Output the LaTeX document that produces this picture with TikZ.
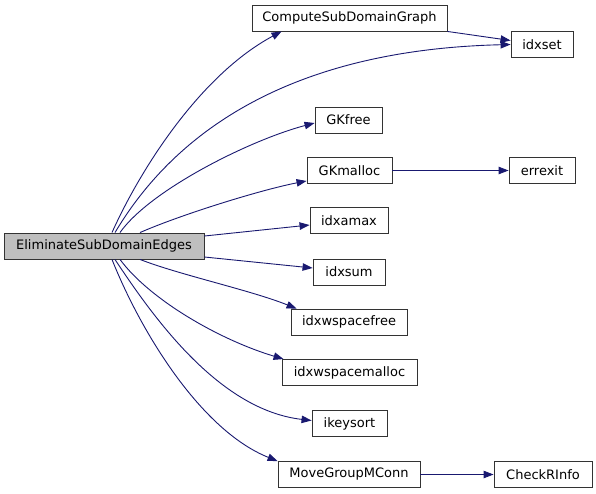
\documentclass[tikz,border=0pt]{standalone}
\usepackage{fontspec}
\setmainfont{DejaVu Sans}
\usetikzlibrary{arrows.meta}
\definecolor{callblue}{HTML}{191970}
\definecolor{boxgray}{HTML}{BFBFBF}

\begin{document}
\begin{tikzpicture}[x=1pt,y=-1pt,
  fn/.style={draw=black!80,line width=0.9pt,minimum height=26,inner sep=0,font=\fontsize{13}{15}\selectfont},
  call/.style={draw=callblue,line width=0.9pt,-{Triangle[length=10pt,width=7.5pt]}}]
\useasboundingbox (0,0) rectangle (596,493);
\node[fn,fill=boxgray,minimum width=200] (elim) at (104,246) {EliminateSubDomainEdges};
\node[fn,minimum width=195] (csdg) at (349.5,18) {ComputeSubDomainGraph};
\node[fn,minimum width=62] (idxset) at (542,44.5) {idxset};
\node[fn,minimum width=67] (gkfree) at (348.5,120) {GKfree};
\node[fn,minimum width=85] (gkmalloc) at (349.5,170.5) {GKmalloc};
\node[fn,minimum width=66] (errexit) at (542,170.5) {errexit};
\node[fn,minimum width=78] (idxamax) at (349,220.5) {idxamax};
\node[fn,minimum width=72] (idxsum) at (349,272) {idxsum};
\node[fn,minimum width=116] (wsfree) at (349,322) {idxwspacefree};
\node[fn,minimum width=135] (wsmalloc) at (349.5,372.5) {idxwspacemalloc};
\node[fn,minimum width=75] (ikeysort) at (349.5,423.5) {ikeysort};
\node[fn,minimum width=142] (mgmc) at (349,474.5) {MoveGroupMConn};
\node[fn,minimum width=98] (checkrinfo) at (543,474.5) {CheckRInfo};
% calls going up
\draw[call] ([xshift=8]elim.north) .. controls (140,170) and (200,75) .. ([xshift=30]csdg.south west);
\draw[call] ([xshift=11]elim.north) .. controls (170,140) and (280,50) .. (idxset.west);
\draw[call] (csdg.south east) -- ([yshift=4]idxset.west);
\draw[call] ([xshift=16]elim.north) .. controls (150,190) and (250,140) .. ([yshift=-3]gkfree.west);
\draw[call] ([xshift=36]elim.north) .. controls (180,215) and (260,190) .. ([yshift=3]gkmalloc.south west);
\draw[call] (gkmalloc) -- (errexit);
\draw[call] ([yshift=10]elim.east) -- ([yshift=-4.5]idxamax.west);
% calls going down
\draw[call] ([yshift=-11]elim.east) -- ([yshift=4]idxsum.west);
\draw[call] ([xshift=36]elim.south) .. controls (180,275) and (250,290) .. ([xshift=6]wsfree.north west);
\draw[call] ([xshift=16]elim.south) .. controls (150,300) and (220,340) .. ([xshift=2]wsmalloc.north west);
\draw[call] ([xshift=11]elim.south) .. controls (155,320) and (220,410) .. ([yshift=3]ikeysort.west);
\draw[call] ([xshift=8]elim.south) .. controls (140,330) and (200,430) .. (mgmc.north west);
\draw[call] (mgmc) -- (checkrinfo);
\end{tikzpicture}
\end{document}
